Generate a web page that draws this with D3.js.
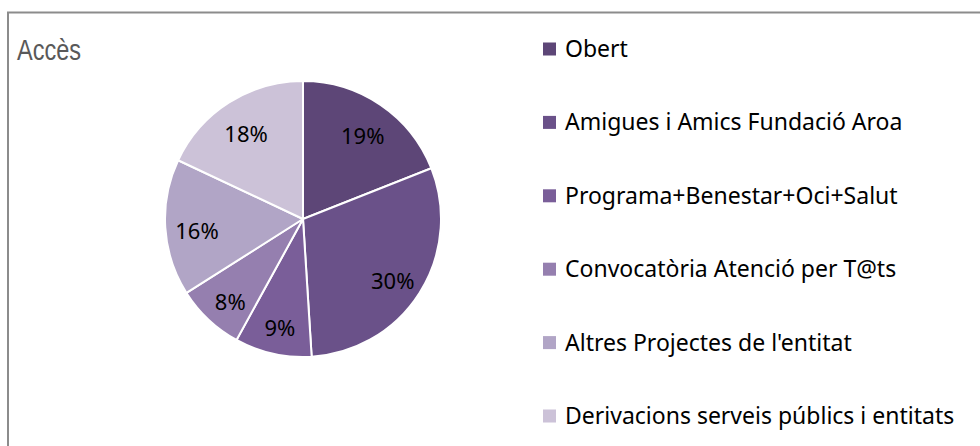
<!DOCTYPE html>
<html>
<head>
<meta charset="utf-8">
<script src="https://d3js.org/d3.v7.min.js"></script>
<style>
  body { margin: 0; background: #fff; }
  svg text { font-family: "Noto Sans", "Open Sans", sans-serif; }
  svg text.title { font-family: "Liberation Sans", Arial, sans-serif; }
</style>
</head>
<body>
<svg id="chart" width="980" height="446"></svg>
<script>
var categories = ["Obert", "Amigues i Amics Fundació Aroa", "Programa+Benestar+Oci+Salut",
  "Convocatòria Atenció per T@ts", "Altres Projectes de l'entitat", "Derivacions serveis públics i entitats"];
var values = [19, 30, 9, 8, 16, 18];
var colors = ["#5d4677", "#6a5189", "#7a5e99", "#957faf", "#b1a5c6", "#ccc2d8"];

var svg = d3.select("#chart");

// frame (right and bottom edges fall outside the window)
svg.append("path")
  .attr("d", "M8,460 L8,12.5 L990,12.5")
  .attr("fill", "none")
  .attr("stroke", "#8c8c8c")
  .attr("stroke-width", 2);

// narrow title, squeezed to the width it has in the original
svg.append("text")
  .attr("class", "title")
  .attr("x", 17).attr("y", 60)
  .attr("font-size", 29)
  .attr("textLength", 64)
  .attr("lengthAdjust", "spacingAndGlyphs")
  .attr("fill", "#595959")
  .text("Accès");

var cx = 303, cy = 219, r = 138;
var pie = d3.pie().sort(null).value(function (d) { return d; });
var arcs = pie(values);
var arc = d3.arc().innerRadius(0).outerRadius(r);
var labelArc = d3.arc().innerRadius(r * 0.77).outerRadius(r * 0.77);

var g = svg.append("g").attr("transform", "translate(" + cx + "," + cy + ")");

g.selectAll("path")
  .data(arcs)
  .enter()
  .append("path")
  .attr("d", arc)
  .attr("fill", function (d, i) { return colors[i]; })
  .attr("stroke", "#fff")
  .attr("stroke-width", 2)
  .attr("stroke-linejoin", "round");

g.selectAll("text")
  .data(arcs)
  .enter()
  .append("text")
  .attr("transform", function (d) { return "translate(" + labelArc.centroid(d) + ")"; })
  .attr("text-anchor", "middle")
  .attr("dy", "0.6em")
  .attr("font-size", 22)
  .attr("fill", "#000")
  .text(function (d) { return d.data + "%"; });

// legend
var ly = d3.scaleLinear().domain([0, categories.length - 1]).range([49, 416]);
var leg = svg.selectAll(".leg")
  .data(categories)
  .enter()
  .append("g")
  .attr("class", "leg")
  .attr("transform", function (d, i) { return "translate(543," + ly(i) + ")"; });

leg.append("rect")
  .attr("x", 0).attr("y", -6.5)
  .attr("width", 13).attr("height", 13)
  .attr("fill", function (d, i) { return colors[i]; });

leg.append("text")
  .attr("x", 22)
  .attr("dy", "0.35em")
  .attr("font-size", 23)
  .attr("fill", "#000")
  .text(function (d) { return d; });
</script>
</body>
</html>
